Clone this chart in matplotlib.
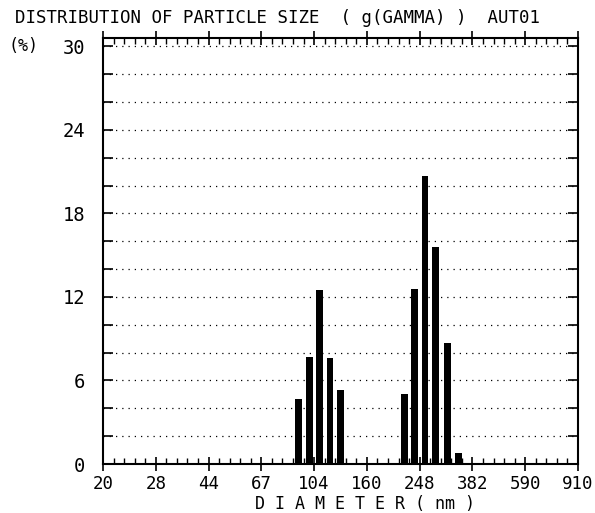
import numpy as np
import matplotlib
matplotlib.use('Agg')
import matplotlib.pyplot as plt
from matplotlib.ticker import FixedLocator, MultipleLocator, NullFormatter

####################################
# Data
####################################

# bin centre diameters (nm) and relative amount (%)
diameters = [96, 105, 114, 124, 135, 226, 245, 266, 290, 318, 348]
percent = [4.7, 7.7, 12.5, 7.6, 5.3, 5.0, 12.6, 20.7, 15.6, 8.7, 0.8]

x_labels = ['20', '28', '44', '67', '104', '160', '248', '382', '590', '910']
y_labels = ['0', '6', '12', '18', '24', '30']

####################################
# Config
####################################

X_MIN, X_MAX = 20, 910
Y_MAX = 30.6
BAR_DECADES = 0.024       # bar width in decades of diameter
FONT = 'DejaVu Sans Mono'
FS = 12

plt.rcParams['font.family'] = FONT

fig = plt.figure(figsize=(5.95, 5.13), dpi=100)
ax = fig.add_axes([103 / 595, 1 - 464 / 513, 475 / 595, 426 / 513])

# bars on a log axis: widths are multiplicative so they look equal
d = np.array(diameters, dtype=float)
lo = d * 10 ** (-BAR_DECADES / 2)
hi = d * 10 ** (BAR_DECADES / 2)
ax.bar(lo, percent, width=hi - lo, align='edge', color='black', linewidth=0, zorder=3)

ax.set_xscale('log')
ax.set_xlim(X_MIN, X_MAX)
ax.set_ylim(0, Y_MAX)

# instrument ticks are evenly spaced in log, 5 bins per labelled step
major_pos = np.geomspace(X_MIN, X_MAX, len(x_labels))
minor_pos = np.geomspace(X_MIN, X_MAX, (len(x_labels) - 1) * 5 + 1)
ax.xaxis.set_major_locator(FixedLocator(major_pos))
ax.xaxis.set_minor_locator(FixedLocator(minor_pos))
ax.set_xticklabels(x_labels)
ax.xaxis.set_minor_formatter(NullFormatter())

ax.yaxis.set_major_locator(FixedLocator([float(v) for v in y_labels]))
ax.set_yticklabels(y_labels)
ax.yaxis.set_minor_locator(MultipleLocator(2))

ax.tick_params(axis='x', which='major', direction='inout', length=10, width=1.2,
               top=True, labelsize=FS + 0.5, pad=3)
ax.tick_params(axis='x', which='minor', direction='in', length=4, width=1.0, top=True)
ax.tick_params(axis='y', which='both', direction='in', length=7, width=1.2,
               right=True, labelsize=FS + 1.5, pad=13)

# dotted guide lines every 2 %
ax.yaxis.grid(True, which='both', linestyle=(0, (1, 4)), color='black', linewidth=0.9)
ax.set_axisbelow(True)

for s in ax.spines.values():
    s.set_linewidth(1.5)

fig.text(15 / 595, 1 - 18 / 513, 'DISTRIBUTION OF PARTICLE SIZE  ( g(GAMMA) )  AUT01',
         fontsize=FS + 0.5, va='center', ha='left')
fig.text(8 / 595, 1 - 46 / 513, '(%)', fontsize=FS, va='center', ha='left')
fig.text(255 / 595, 1 - 504 / 513, 'D I A M E T E R ( nm )',
         fontsize=FS, va='center', ha='left')

fig.savefig('out.png', dpi=100)
